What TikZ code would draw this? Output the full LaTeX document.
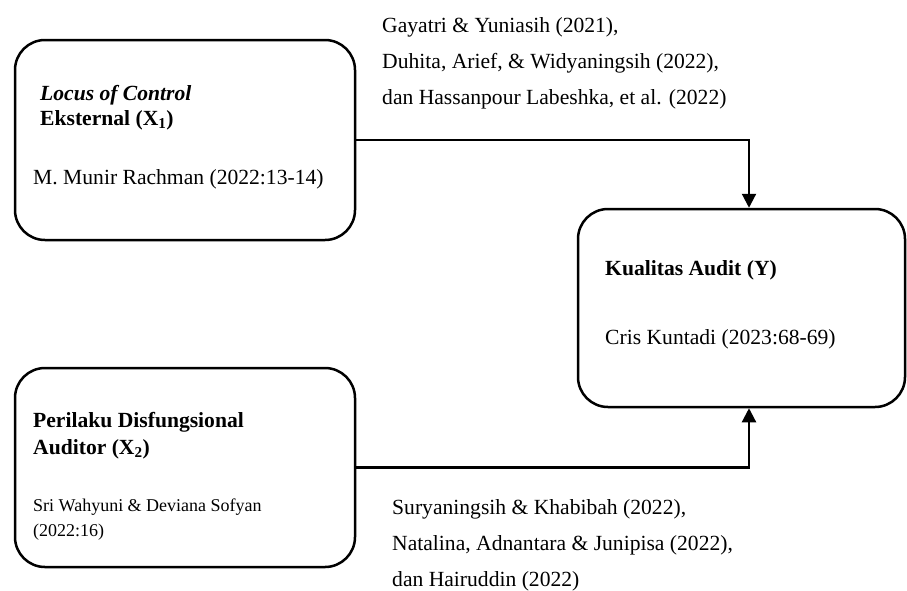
\documentclass[tikz,border=0pt]{standalone}
\usepackage{fontspec}
\setmainfont{Liberation Serif}
\usetikzlibrary{arrows.meta,calc}
\tikzset{
  box/.style={draw,line width=2.5pt,rounded corners=30pt,inner sep=0pt},
  txt/.style={anchor=base west,inner sep=0pt,font=\fontsize{21.6}{26}\selectfont},
  small/.style={anchor=base west,inner sep=0pt,font=\fontsize{18}{24}\selectfont},
  conn/.style={line width=2.2pt,-{Triangle[width=14pt,length=14pt]}}
}
\begin{document}
\begin{tikzpicture}[x=1pt,y=-1pt]
\useasboundingbox (0,0) rectangle (907,590);
% boxes
\node[box,minimum width=340pt,minimum height=200pt] (b1) at (185,140) {};
\node[box,minimum width=340pt,minimum height=199pt] (b2) at (185,467.5) {};
\node[box,minimum width=327pt,minimum height=198pt] (by) at (741.5,308) {};
% box 1 texts
\node[txt] (t1a) at (40,100) {\textbf{\textit{Locus of Control}}};
\node[txt] (t1b) at (40,125) {\textbf{Eksternal (X\textsubscript{1})}};
\node[txt] (t1c) at (33,184) {M. Munir Rachman (2022:13-14)};
% box 2 texts
\node[txt] (t2a) at (33,427) {\textbf{Perilaku Disfungsional}};
\node[txt] (t2b) at (33,454) {\textbf{Auditor (X\textsubscript{2})}};
\node[small] (t2c) at (33,511) {Sri Wahyuni \& Deviana Sofyan};
\node[small] (t2d) at (33,536) {(2022:16)};
% box Y texts
\node[txt] (tya) at (605,275) {\textbf{Kualitas Audit (Y)}};
\node[txt] (tyb) at (605,344) {Cris Kuntadi (2023:68-69)};
% top references
\node[txt] (r1) at (382,32) {Gayatri \& Yuniasih (2021),};
\node[txt] (r2) at (382,68) {Duhita, Arief, \& Widyaningsih (2022),};
\node[txt] (r3) at (382,104) {dan Hassanpour Labeshka, et al. (2022)};
% bottom references
\node[txt] (s1) at (392,514) {Suryaningsih \& Khabibah (2022),};
\node[txt] (s2) at (392,550) {Natalina, Adnantara \& Junipisa (2022),};
\node[txt] (s3) at (392,586) {dan Hairuddin (2022)};
% connectors
\coordinate (ytop) at ([xshift=7.5pt]by.north);
\coordinate (ybot) at ([xshift=7.5pt]by.south);
\draw[conn] (b1.east) -| (ytop);
\draw[conn] (b2.east) -| (ybot);
\end{tikzpicture}
\end{document}
